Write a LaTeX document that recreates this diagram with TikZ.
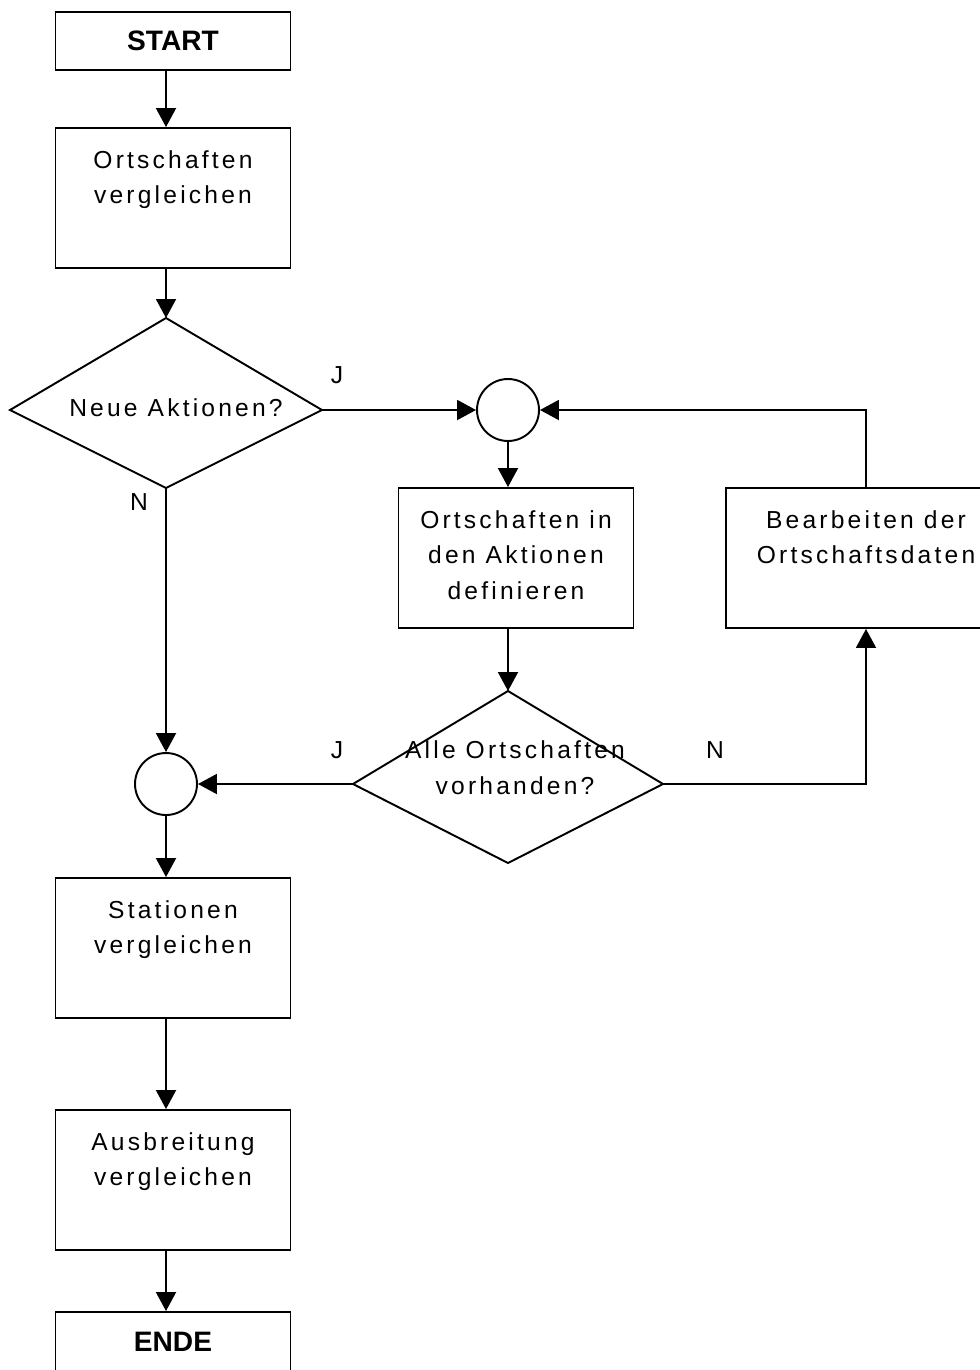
\documentclass[tikz,border=0pt]{standalone}
\usepackage{fontspec}
\setmainfont{Liberation Sans}
\usetikzlibrary{arrows.meta}
\newcommand\boxlines[1]{\parbox[c][2.8cm][t]{4.6cm}{\centering\rule{0pt}{0.8cm}#1}}

\begin{document}
\begin{tikzpicture}[x=0.02cm,y=-0.02cm,line width=1.1pt,
    >={Triangle[length=0.38cm,width=0.4cm]},
    every node/.style={font=\fontsize{14}{20.4}\selectfont\addfontfeatures{LetterSpace=13}},
    procbox/.style={draw,rectangle,inner sep=0pt,minimum width=4.7cm,minimum height=2.8cm},
    termbox/.style={draw,rectangle,inner sep=0pt,minimum width=4.7cm,minimum height=1.16cm,
      font=\fontsize{16}{19}\selectfont\bfseries},
    joint/.style={draw,circle,inner sep=0pt,minimum size=1.24cm}]
    \useasboundingbox (0,0) rectangle (980,1370);
    % main column
    \node [termbox] (start) at (173,41) {START};
    \node [procbox] (ortv) at (173,198) {\boxlines{Ortschaften\\vergleichen}};
    \coordinate (d1t) at (166,318);
    \coordinate (d1r) at (322,410);
    \coordinate (d1b) at (166,488);
    \coordinate (d1l) at (10,410);
    \draw (d1t) -- (d1r) -- (d1b) -- (d1l) -- cycle;
    \node (d1txt) at (176,408) {Neue Aktionen?};
    \node [joint] (c2) at (166,784) {};
    \node [procbox] (stat) at (173,948) {\boxlines{Stationen\\vergleichen}};
    \node [procbox] (ausb) at (173,1180) {\boxlines{Ausbreitung\\vergleichen}};
    \node [termbox,minimum height=1.2cm] (ende) at (173,1342) {ENDE};
    % right part
    \node [joint] (c1) at (508,410) {};
    \node [procbox] (ortd) at (516,558) {\boxlines{Ortschaften in\\den Aktionen\\definieren}};
    \node [procbox,minimum width=5.6cm] (bearb) at (866,558) {\boxlines{Bearbeiten der\\Ortschaftsdaten}};
    \coordinate (d2t) at (508,691);
    \coordinate (d2r) at (663,784);
    \coordinate (d2b) at (508,863);
    \coordinate (d2l) at (353,784);
    \draw (d2t) -- (d2r) -- (d2b) -- (d2l) -- cycle;
    \node [align=center] (d2txt) at (515,768) {Alle Ortschaften\\vorhanden?};
    % labels
    \node (j1) at (337,375) {J};
    \node (n1) at (139,502) {N};
    \node (j2) at (337,750) {J};
    \node (n2) at (715,750) {N};
    % connectors
    \draw [->] (start.south -| c2) -- (ortv.north -| c2);
    \draw [->] (ortv.south -| c2) -- (d1t);
    \draw [->] (d1r) -- (c1.west);
    \draw [->] (c1.south) -- (c1.south |- ortd.north);
    \draw [->] (ortd.south -| c1) -- (d2t);
    \draw [->] (d2r) -| (bearb.south);
    \draw [->] (bearb.north) |- (c1.east);
    \draw [->] (d2l) -- (c2.east);
    \draw [->] (d1b) -- (c2.north);
    \draw [->] (c2.south) -- (stat.north -| c2);
    \draw [->] (stat.south -| c2) -- (ausb.north -| c2);
    \draw [->] (ausb.south -| c2) -- (ende.north -| c2);
\end{tikzpicture}
\end{document}
